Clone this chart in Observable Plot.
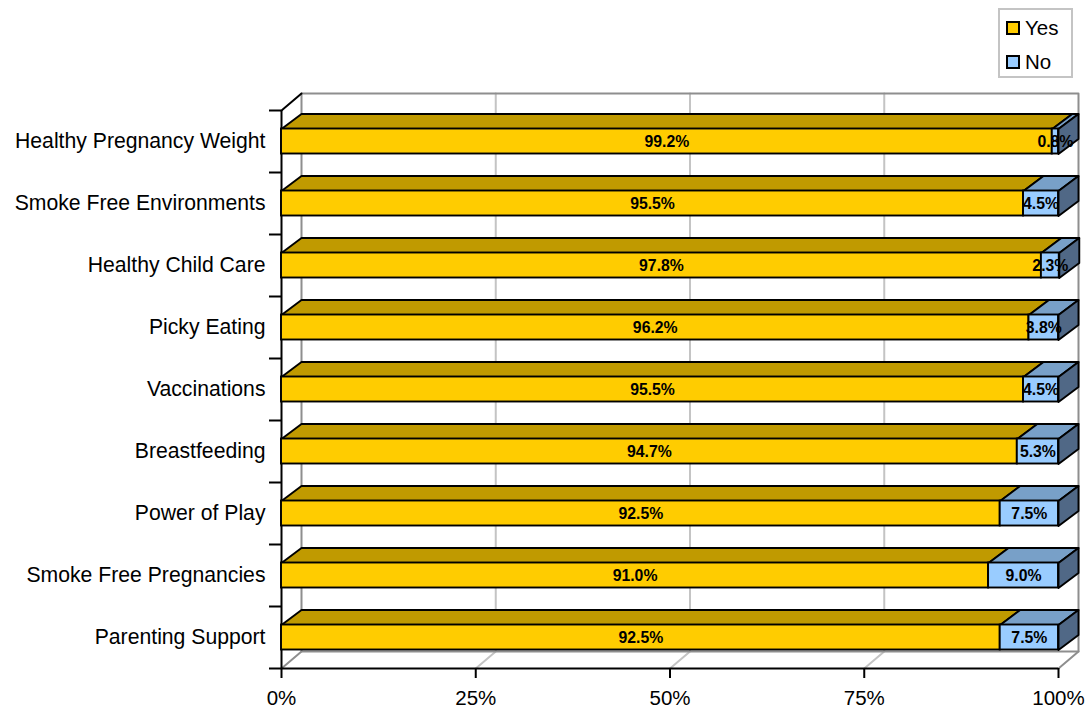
<!DOCTYPE html>
<html><head><meta charset="utf-8">
<script src="https://cdn.jsdelivr.net/npm/d3@7"></script>
<script src="https://cdn.jsdelivr.net/npm/@observablehq/plot@0.6"></script>
<style>
body{margin:0;background:#fff;font-family:"Liberation Sans",Arial,sans-serif;}
#wrap{position:relative;width:1088px;height:709px;}
#legend{position:absolute;left:998px;top:8px;width:75px;height:70px;border:2px solid #c4c4c4;box-sizing:border-box;padding-top:1px;}
.row{display:flex;align-items:center;height:34px;padding-left:6px;font-size:20.5px;color:#000;}
.sw{width:10px;height:10px;border:2px solid #000;margin-right:5px;}
</style></head>
<body><div id="wrap"><div id="chart"></div><div id="legend"></div></div>
<script>
const categories = ["Healthy Pregnancy Weight","Smoke Free Environments","Healthy Child Care","Picky Eating","Vaccinations","Breastfeeding","Power of Play","Smoke Free Pregnancies","Parenting Support"];
const yesValues = [99.2,95.5,97.8,96.2,95.5,94.7,92.5,91.0,92.5];
const noValues  = [0.8,4.5,2.3,3.8,4.5,5.3,7.5,9.0,7.5];
const seriesNames = ["Yes","No"];
const xTicks = [0,25,50,75,100];
const colors = {
  Yes:{front:"#FFCC00", top:"#C09A00", side:"#8a6f00"},
  No:{front:"#99CCFF", top:"#78A0C8", side:"#506886"}
};

// layout
const W=1088, H=709, mL=281, mR=30, mT=110, mB=41;
const n = categories.length;
const kx = (W-mL-mR)/100, ky = (H-mT-mB)/n;
const wx = 20/kx, wy = 17/ky;      // wall depth in data units
const bx = 20/kx, by = 15/ky;      // bar depth
const h = 12.5/ky;                 // half bar height
const yTop = -0.5, yBot = n-0.5;

// segments
const segs = [];
categories.forEach((c,i)=>{
  segs.push({s:"Yes", i, x1:0, x2:yesValues[i], v:yesValues[i]});
  segs.push({s:"No", i, x1:yesValues[i], x2:yesValues[i]+noValues[i], v:noValues[i]});
});
function poly(list, fn){
  const out=[];
  list.forEach((d,k)=>fn(d).forEach(([x,y])=>out.push({id:k,x,y})));
  return out;
}
const topFace = s => poly(segs.filter(d=>d.s===s), d=>[[d.x1,d.i-h],[d.x2,d.i-h],[d.x2+bx,d.i-h-by],[d.x1+bx,d.i-h-by]]);
const sideFace = s => poly(segs.filter(d=>d.s===s && d.x2>=99.9), d=>[[d.x2,d.i-h],[d.x2,d.i+h],[d.x2+bx,d.i+h-by],[d.x2+bx,d.i-h-by]]);

// walls
const wallGray = [
  {id:0,x:0,y:yBot},{id:0,x:wx,y:yBot-wy},{id:0,x:wx,y:yTop-wy},{id:0,x:100+wx,y:yTop-wy},{id:0,x:100+wx,y:yBot-wy},{id:0,x:100,y:yBot},
  {id:1,x:wx,y:yBot-wy},{id:1,x:100+wx,y:yBot-wy}
];
const grid = poly(xTicks.filter(t=>t>0&&t<100), t=>[[t,yBot],[t+wx,yBot-wy],[t+wx,yTop-wy]]);
const leftTop = [{x:0,y:yTop},{x:wx,y:yTop-wy}];

const chart = Plot.plot({
  width:W, height:H, marginLeft:mL, marginRight:mR, marginTop:mT, marginBottom:mB,
  x:{domain:[0,100]},
  y:{domain:[yTop,yBot], reverse:true},
  style:{fontFamily:"'Liberation Sans', Arial, sans-serif", background:"#fff", overflow:"visible"},
  marks:[
    Plot.line(grid,{x:"x",y:"y",z:"id",stroke:"#c4c4c4",strokeWidth:2}),
    Plot.line(wallGray,{x:"x",y:"y",z:"id",stroke:"#8e8e8e",strokeWidth:2}),
    Plot.line(leftTop,{x:"x",y:"y",stroke:"#000",strokeWidth:2}),
    Plot.ruleX([0],{stroke:"#000",strokeWidth:2}),
    Plot.ruleY([yBot],{stroke:"#000",strokeWidth:2}),
    Plot.axisY({ticks:d3.range(n+1).map(k=>k-0.5), tickSize:12, tickFormat:()=>"", label:null, strokeWidth:2}),
    Plot.axisY({ticks:d3.range(n), tickSize:0, tickPadding:16, tickFormat:k=>categories[k], label:null, fontSize:21.2, fill:"#000"}),
    Plot.axisX({ticks:xTicks, tickSize:10, tickPadding:12, tickFormat:d=>d+"%", label:null, fontSize:20.5, fill:"#000", strokeWidth:2}),
    ...seriesNames.flatMap(s=>[
      Plot.line(topFace(s),{x:"x",y:"y",z:"id",fill:colors[s].top,stroke:"#000",strokeWidth:1.9,curve:"linear-closed",strokeLinejoin:"round"}),
      Plot.line(sideFace(s),{x:"x",y:"y",z:"id",fill:colors[s].side,stroke:"#000",strokeWidth:1.9,curve:"linear-closed",strokeLinejoin:"round"}),
      Plot.rect(segs.filter(d=>d.s===s),{x1:"x1",x2:"x2",y1:d=>d.i-h,y2:d=>d.i+h,fill:colors[s].front,stroke:"#000",strokeWidth:1.9})
    ]),
    Plot.text(segs,{x:d=>(d.x1+d.x2)/2,y:"i",text:d=>d.v.toFixed(1)+"%",fontWeight:"bold",fontSize:15.8,fill:"#000"})
  ]
});
document.getElementById("chart").appendChild(chart);

const leg = document.getElementById("legend");
seriesNames.forEach(s=>{
  const r=document.createElement("div"); r.className="row";
  const sw=document.createElement("div"); sw.className="sw"; sw.style.background=colors[s].front;
  r.appendChild(sw); r.appendChild(document.createTextNode(s)); leg.appendChild(r);
});
</script></body></html>
